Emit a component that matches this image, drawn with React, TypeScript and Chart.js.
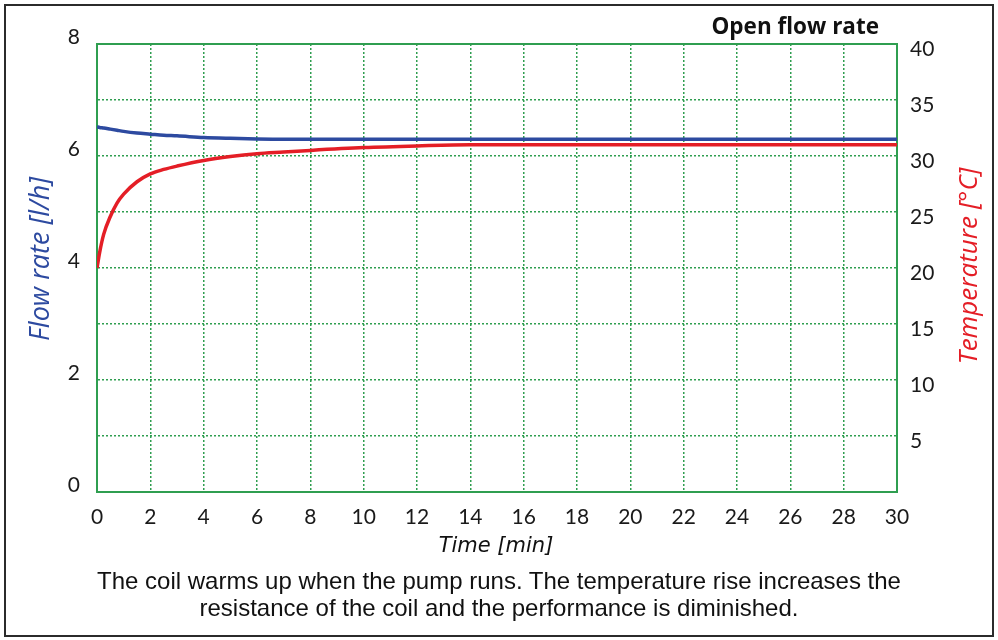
import React, { useEffect, useRef } from "react";
import { Chart, registerables } from "chart.js";

Chart.register(...registerables);

// ---- data ----
const timeMin = [0, 0.1, 0.25, 0.5, 0.75, 1, 1.5, 2, 2.5, 3, 4, 5, 6, 7, 8, 10, 12, 14, 16, 18, 20, 22, 24, 26, 28, 30];
const flowRate = [6.52, 6.51, 6.5, 6.48, 6.46, 6.44, 6.41, 6.39, 6.37, 6.36, 6.33, 6.315, 6.305, 6.3, 6.3, 6.3, 6.3, 6.3, 6.3, 6.3, 6.3, 6.3, 6.3, 6.3, 6.3, 6.3];
const temperature = [20.0, 21.4, 23.0, 24.6, 25.8, 26.6, 27.7, 28.4, 28.8, 29.1, 29.6, 29.95, 30.2, 30.35, 30.5, 30.75, 30.9, 31.0, 31.0, 31.0, 31.0, 31.0, 31.0, 31.0, 31.0, 31.0];
const flowTicksLabelled = [0, 2, 4, 6, 8];
const tempTicksLabelled = [5, 10, 15, 20, 25, 30, 35, 40];

const chartTitle = "Open flow rate";
const xTitle = "Time [min]";
const yTitle = "Flow rate [l/h]";
const y1Title = "Temperature [°C]";
const captionLines = [
  "The coil warms up when the pump runs. The temperature rise increases the",
  "resistance of the coil and the performance is diminished.",
];

const GREEN = "#2f9e50";
const BLUE = "#2d4aa0";
const RED = "#e41e26";
const TICK_FONT = { family: "Lato, 'DejaVu Sans', sans-serif", size: 21 };

const plotFrame = {
  id: "plotFrame",
  beforeDatasetsDraw(chart: any) {
    const { ctx, chartArea } = chart;
    ctx.save();
    ctx.strokeStyle = GREEN;
    ctx.lineWidth = 2;
    ctx.strokeRect(chartArea.left, chartArea.top, chartArea.right - chartArea.left, chartArea.bottom - chartArea.top);
    ctx.restore();
  },
};

export default function App() {
  const ref = useRef<HTMLCanvasElement | null>(null);

  useEffect(() => {
    document.body.style.margin = "0";
    if (!ref.current) return;
    const chart = new Chart(ref.current, {
      type: "line",
      data: {
        datasets: [
          {
            label: "Flow rate",
            data: timeMin.map((t, i) => ({ x: t, y: flowRate[i] })),
            borderColor: BLUE,
            borderWidth: 3.5,
            pointRadius: 0,
            cubicInterpolationMode: "monotone",
            yAxisID: "y",
          },
          {
            label: "Temperature",
            data: timeMin.map((t, i) => ({ x: t, y: temperature[i] })),
            borderColor: RED,
            borderWidth: 3.5,
            pointRadius: 0,
            cubicInterpolationMode: "monotone",
            yAxisID: "y1",
          },
        ],
      },
      options: {
        animation: false,
        responsive: false,
        layout: { padding: { top: 44, bottom: 88, left: 0, right: 0 } },
        plugins: { legend: { display: false }, tooltip: { enabled: false }, title: { display: false } },
        scales: {
          x: {
            type: "linear",
            min: 0,
            max: 30,
            afterFit: (s: any) => {
              s.height = 60;
            },
            ticks: { stepSize: 2, font: TICK_FONT, color: "#1a1a1a", padding: 13, maxRotation: 0 },
            grid: { color: GREEN, lineWidth: 1.5, drawTicks: false },
            border: { display: true, color: GREEN, width: 2, dash: [2, 2] },
          },
          y: {
            position: "left",
            min: 0,
            max: 8,
            afterFit: (s: any) => {
              s.width = 97;
            },
            ticks: {
              stepSize: 1,
              font: TICK_FONT,
              color: "#1a1a1a",
              padding: 17,
              labelOffset: -7,
              callback: (v: any) => (flowTicksLabelled.includes(Number(v)) ? String(v) : ""),
            },
            grid: { color: GREEN, lineWidth: 1.5, drawTicks: false },
            border: { display: true, color: GREEN, width: 2, dash: [2, 2] },
          },
          y1: {
            position: "right",
            min: 0,
            max: 40,
            afterFit: (s: any) => {
              s.width = 101;
            },
            ticks: {
              stepSize: 5,
              font: TICK_FONT,
              color: "#1a1a1a",
              padding: 13,
              labelOffset: 5,
              callback: (v: any) => (tempTicksLabelled.includes(Number(v)) ? String(v) : ""),
            },
            grid: { display: false, drawTicks: false },
            border: { display: true, color: GREEN, width: 2 },
          },
        },
      } as any,
      plugins: [plotFrame],
    });
    return () => chart.destroy();
  }, []);

  const italic: React.CSSProperties = {
    position: "absolute",
    fontStyle: "italic",
    whiteSpace: "nowrap",
    lineHeight: 1,
  };

  return (
    <div style={{ position: "relative", width: 998, height: 640, background: "#fff", overflow: "hidden" }}>
      <canvas ref={ref} width={998} height={640} style={{ position: "absolute", left: 0, top: 0 }} />
      <div
        style={{
          position: "absolute",
          left: 4,
          top: 4,
          width: 990,
          height: 633,
          boxSizing: "border-box",
          border: "2px solid #2b2b2b",
          pointerEvents: "none",
        }}
      />
      <div
        style={{
          position: "absolute",
          right: 998 - 879,
          top: 26,
          transform: "translateY(-50%)",
          fontFamily: "'Open Sans', sans-serif",
          fontWeight: 700,
          fontSize: 22.5,
          color: "#111",
          whiteSpace: "nowrap",
          lineHeight: 1,
        }}
      >
        {chartTitle}
      </div>
      <div
        style={{
          ...italic,
          left: 38,
          top: 259,
          fontSize: 27,
          transform: "translate(-50%, -50%) rotate(-90deg)",
          color: BLUE,
          fontFamily: "'Open Sans', sans-serif",
        }}
      >
        {yTitle}
      </div>
      <div
        style={{
          ...italic,
          left: 967,
          top: 266,
          fontSize: 26,
          transform: "translate(-50%, -50%) rotate(-90deg)",
          color: RED,
          fontFamily: "'Open Sans', sans-serif",
        }}
      >
        {y1Title}
      </div>
      <div
        style={{
          ...italic,
          left: 496,
          top: 545,
          fontSize: 21,
          transform: "translate(-50%, -50%)",
          color: "#111",
          fontFamily: "'DejaVu Sans', sans-serif",
        }}
      >
        {xTitle}
      </div>
      <div
        style={{
          position: "absolute",
          left: 0,
          width: 998,
          top: 567,
          textAlign: "center",
          fontFamily: "'Liberation Sans', Arial, sans-serif",
          fontSize: 24,
          lineHeight: "27px",
          color: "#111",
        }}
      >
        {captionLines[0]}
        <br />
        {captionLines[1]}
      </div>
    </div>
  );
}
